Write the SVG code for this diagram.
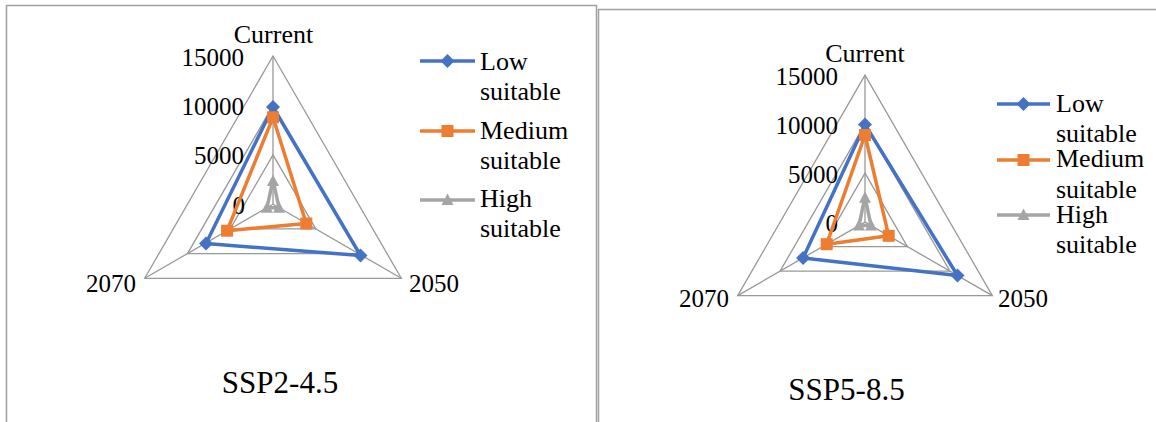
<svg xmlns="http://www.w3.org/2000/svg" width="1156" height="422" viewBox="0 0 1156 422" font-family="Liberation Serif, serif">
  <style>
    .frame { fill: none; stroke: #a0a0a0; stroke-width: 1.5; }
    .grid { fill: none; stroke: #999999; stroke-width: 1.3; }
    .txt { font-family: 'Liberation Serif', serif; font-size: 25px; fill: #000; }
    .word { font-size: 26px; }
    .title { font-family: 'Liberation Serif', serif; font-size: 31px; fill: #000; }
    .tick { text-anchor: end; }
    .mid { text-anchor: middle; }
    .low { fill: none; stroke: #4472C4; stroke-width: 3.5; stroke-linejoin: round; }
    .med { fill: none; stroke: #ED7D31; stroke-width: 3.5; stroke-linejoin: round; }
    .high { fill: none; stroke: #A5A5A5; stroke-width: 3.5; stroke-linejoin: round; }
    .mlow { fill: #4472C4; }
    .mmed { fill: #ED7D31; }
    .mhigh { fill: #A5A5A5; }
  </style>
  <defs>
    <polygon id="diamond" points="0,-7 7,0 0,7 -7,0"/>
    <rect id="square" x="-6" y="-6" width="12" height="12"/>
    <polygon id="tri" points="0,-6.5 6,5 -6,5"/>
  </defs>

  <rect width="1156" height="422" fill="#ffffff"/>

  <!-- panel frames -->
  <g id="frames">
    <path class="frame" d="M6.5,430 V5.5 H596.5 V430"/>
    <path class="frame" d="M598.5,430 V9.5 H1160"/>
  </g>

  <!-- ============ left radar: SSP2-4.5 (center 273,204.2; R 148.2) ============ -->
  <g id="radar-ssp245">
    <g id="grid-ssp245">
      <polygon class="grid" points="273,56 401.3,278.3 144.7,278.3"/>
      <polygon class="grid" points="273,105.4 358.5,253.6 187.5,253.6"/>
      <polygon class="grid" points="273,154.8 315.8,228.9 230.2,228.9"/>
      <line class="grid" x1="273" y1="204.2" x2="273" y2="56"/>
      <line class="grid" x1="273" y1="204.2" x2="401.3" y2="278.3"/>
      <line class="grid" x1="273" y1="204.2" x2="144.7" y2="278.3"/>
    </g>
    <g id="ticks-ssp245" class="txt tick">
      <text x="244" y="66">15000</text>
      <text x="244" y="115">10000</text>
      <text x="244" y="164">5000</text>
      <text x="245" y="214">0</text>
    </g>
    <g id="axes-ssp245" class="txt">
      <text class="mid word" x="273.5" y="43">Current</text>
      <text x="409" y="292">2050</text>
      <text x="86" y="292">2070</text>
    </g>
    <g id="series-ssp245">
      <polygon class="low" points="273,107 360.5,255.5 206,243.5"/>
      <polygon class="med" points="273,117.3 306.3,223.5 227.1,230.7"/>
      <polygon class="high" points="273,180 279,207.7 267,207.7"/>
      <g class="mlow">
        <use href="#diamond" x="273" y="107"/>
        <use href="#diamond" x="360.5" y="255.5"/>
        <use href="#diamond" x="206" y="243.5"/>
      </g>
      <g class="mmed">
        <use href="#square" x="273" y="117.3"/>
        <use href="#square" x="306.3" y="223.5"/>
        <use href="#square" x="227.1" y="230.7"/>
      </g>
      <g class="mhigh">
        <use href="#tri" x="273" y="181"/>
        <use href="#tri" x="279" y="207.7"/>
        <use href="#tri" x="267" y="207.7"/>
      </g>
    </g>
    <g id="legend-ssp245">
      <line class="low" x1="420" y1="61" x2="475" y2="61"/>
      <use class="mlow" href="#diamond" x="447.5" y="61"/>
      <line class="med" x1="420" y1="131" x2="475" y2="131"/>
      <use class="mmed" href="#square" x="447.5" y="131"/>
      <line class="high" x1="420" y1="200" x2="475" y2="200"/>
      <use class="mhigh" href="#tri" x="447.5" y="200"/>
      <g class="txt word">
        <text x="480" y="70">Low</text>
        <text x="480" y="100">suitable</text>
        <text x="480" y="138.5">Medium</text>
        <text x="480" y="168.5">suitable</text>
        <text x="480" y="207">High</text>
        <text x="480" y="237">suitable</text>
      </g>
    </g>
    <text id="title-ssp245" class="title mid" x="280" y="393">SSP2-4.5</text>
  </g>

  <!-- ============ right radar: SSP5-8.5 (center 865,222.1; R 147) ============ -->
  <g id="radar-ssp585">
    <g id="grid-ssp585">
      <polygon class="grid" points="865,75.1 992.3,295.6 737.7,295.6"/>
      <polygon class="grid" points="865,124.1 949.9,271.1 780.1,271.1"/>
      <polygon class="grid" points="865,173.1 907.4,246.6 822.6,246.6"/>
      <line class="grid" x1="865" y1="222.1" x2="865" y2="75.1"/>
      <line class="grid" x1="865" y1="222.1" x2="992.3" y2="295.6"/>
      <line class="grid" x1="865" y1="222.1" x2="737.7" y2="295.6"/>
    </g>
    <g id="ticks-ssp585" class="txt tick">
      <text x="838" y="85">15000</text>
      <text x="838" y="134">10000</text>
      <text x="838" y="183">5000</text>
      <text x="838" y="231.5">0</text>
    </g>
    <g id="axes-ssp585" class="txt">
      <text class="mid word" x="865" y="62">Current</text>
      <text x="998" y="307">2050</text>
      <text x="679" y="307">2070</text>
    </g>
    <g id="series-ssp585">
      <polygon class="low" points="865,124.5 957.5,275.5 803.1,257.9"/>
      <polygon class="med" points="865,135 888.7,235.8 826.7,244.2"/>
      <polygon class="high" points="865,196.7 871,225.6 859,225.6"/>
      <g class="mlow">
        <use href="#diamond" x="865" y="124.5"/>
        <use href="#diamond" x="957.5" y="275.5"/>
        <use href="#diamond" x="803.1" y="257.9"/>
      </g>
      <g class="mmed">
        <use href="#square" x="865" y="135"/>
        <use href="#square" x="888.7" y="235.8"/>
        <use href="#square" x="826.7" y="244.2"/>
      </g>
      <g class="mhigh">
        <use href="#tri" x="865" y="197.7"/>
        <use href="#tri" x="871" y="225.6"/>
        <use href="#tri" x="859" y="225.6"/>
      </g>
    </g>
    <g id="legend-ssp585">
      <line class="low" x1="997" y1="104" x2="1050" y2="104"/>
      <use class="mlow" href="#diamond" x="1023.5" y="104"/>
      <line class="med" x1="997" y1="160" x2="1050" y2="160"/>
      <use class="mmed" href="#square" x="1023.5" y="160"/>
      <line class="high" x1="997" y1="215" x2="1050" y2="215"/>
      <use class="mhigh" href="#tri" x="1023.5" y="215"/>
      <g class="txt word">
        <text x="1056" y="112">Low</text>
        <text x="1056" y="142">suitable</text>
        <text x="1056" y="167">Medium</text>
        <text x="1056" y="197.5">suitable</text>
        <text x="1056" y="222.5">High</text>
        <text x="1056" y="253">suitable</text>
      </g>
    </g>
    <text id="title-ssp585" class="title mid" x="846.5" y="400">SSP5-8.5</text>
  </g>
</svg>
